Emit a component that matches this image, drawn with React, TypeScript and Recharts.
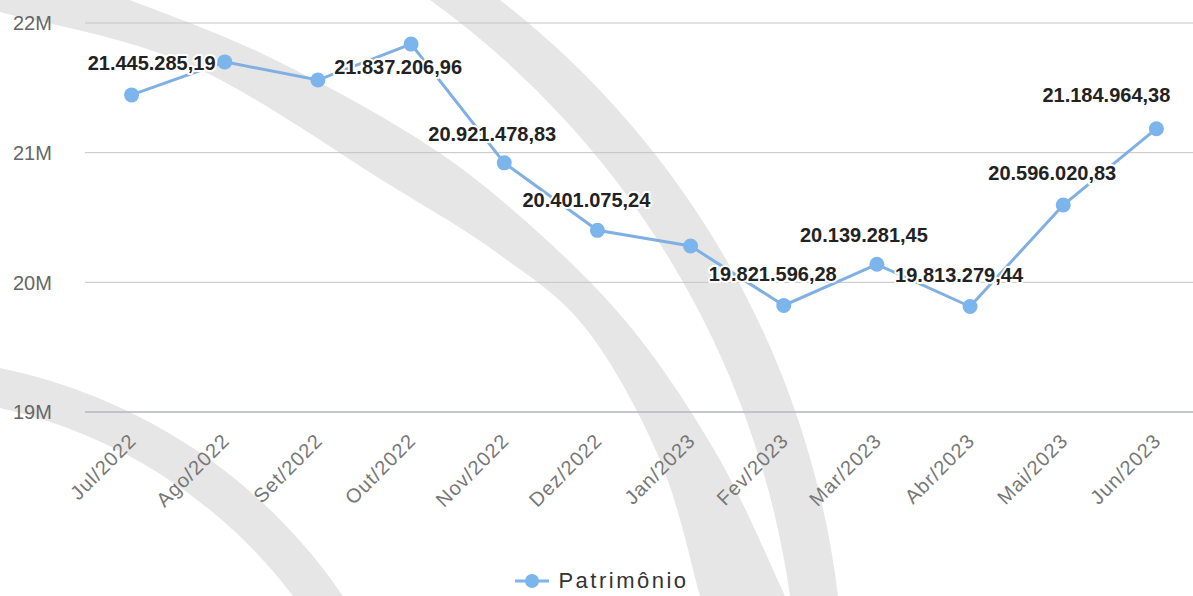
import React from "react";
import { LineChart, Line, XAxis, YAxis, CartesianGrid, Legend } from "recharts";

const months = [
  "Jul/2022", "Ago/2022", "Set/2022", "Out/2022", "Nov/2022", "Dez/2022",
  "Jan/2023", "Fev/2023", "Mar/2023", "Abr/2023", "Mai/2023", "Jun/2023",
];

const patrimonio = [
  21445285.19, 21700000, 21560000, 21837206.96, 20921478.83, 20401075.24,
  20280000, 19821596.28, 20139281.45, 19813279.44, 20596020.83, 21184964.38,
];

const yTicks = [19000000, 20000000, 21000000, 22000000];

// label placement relative to the point (null = label hidden, as in the reference)
const labelOffsets: ([number, number] | null)[] = [
  [20, -32], null, null, [-13, 23], [-12, -29], [-11, -31],
  null, [-11, -32], [-13, -29], [-11, -32], [-11, -32], [-50, -34],
];

const data = months.map((m, i) => ({ month: m, patrimonio: patrimonio[i] }));

const FONT = "'Liberation Sans', Arial, sans-serif";
const BLUE = "#7cb5ec";

function fmtBR(v: number) {
  const [int, dec] = v.toFixed(2).split(".");
  return int.replace(/\B(?=(\d{3})+(?!\d))/g, ".") + "," + dec;
}

// smooth curve through points (catmull-rom -> bezier), for the watermark only
function curve(pts: number[][]) {
  let d = "";
  for (let i = 0; i < pts.length - 1; i++) {
    const p0 = pts[i - 1] || pts[i];
    const p1 = pts[i];
    const p2 = pts[i + 1];
    const p3 = pts[i + 2] || p2;
    const c1 = [p1[0] + (p2[0] - p0[0]) / 6, p1[1] + (p2[1] - p0[1]) / 6];
    const c2 = [p2[0] - (p3[0] - p1[0]) / 6, p2[1] - (p3[1] - p1[1]) / 6];
    d += ` C${c1[0]} ${c1[1]} ${c2[0]} ${c2[1]} ${p2[0]} ${p2[1]}`;
  }
  return d;
}

const band1Upper = [[130, 0], [265, 55], [420, 140], [530, 225], [633, 330], [720, 460], [785, 596]];
const band1Lower = [[700, 596], [660, 460], [587, 330], [500, 255], [390, 185], [190, 65], [0, 12]];
const band1 = `M0 0 L130 0${curve(band1Upper)} L700 596${curve(band1Lower)} Z`;

const YTick = (props: any) => {
  const { y, payload } = props;
  return (
    <text x={13} y={y} dy="0.36em" textAnchor="start" fill="#666" fontSize={20} fontFamily={FONT}>
      {Math.round(payload.value / 1000000)}M
    </text>
  );
};

const XTick = (props: any) => {
  const { x, y, payload } = props;
  const ax = x + 6;
  const ay = y + 22;
  return (
    <text
      x={ax}
      y={ay}
      textAnchor="end"
      transform={`rotate(-45, ${ax}, ${ay})`}
      fill="#777"
      fontSize={20}
      letterSpacing={1}
      fontFamily={FONT}
    >
      {payload.value}
    </text>
  );
};

const PointLabel = (props: any) => {
  const { x, y, index, value } = props;
  const off = labelOffsets[index];
  if (!off) return null;
  return (
    <text
      x={x + off[0]}
      y={y + off[1]}
      dy="0.36em"
      textAnchor="middle"
      fontSize={20}
      fontWeight="bold"
      fontFamily={FONT}
      fill="#222"
      stroke="#fff"
      strokeWidth={4}
      strokeLinejoin="round"
      paintOrder="stroke"
    >
      {fmtBR(Number(value))}
    </text>
  );
};

const LegendContent = () => (
  <div style={{ height: 30, display: "flex", alignItems: "center", justifyContent: "center" }}>
    <svg width={36} height={20} style={{ marginRight: 8 }}>
      <line x1={1} y1={10} x2={35} y2={10} stroke={BLUE} strokeWidth={3} />
      <circle cx={18} cy={10} r={7} fill={BLUE} />
    </svg>
    <span style={{ fontFamily: FONT, fontSize: 22, letterSpacing: 2.5, color: "#333" }}>Patrimônio</span>
  </div>
);

export default function App() {
  return (
    <div
      style={{
        position: "absolute",
        left: 0,
        top: 0,
        width: 1193,
        height: 596,
        overflow: "hidden",
        background: "#fff",
      }}
    >
      {/* watermark arcs behind the chart */}
      <svg width={1193} height={596} style={{ position: "absolute", left: 0, top: 0 }}>
        <path d={band1} fill="#e6e6e6" />
        <path d="M430 0 L500 0 A889 889 0 0 1 838 596 L790 596 A888 888 0 0 0 430 0 Z" fill="#e6e6e6" />
        <path d="M0 368 A548 548 0 0 1 343 596 L293 596 A505 505 0 0 0 0 408 Z" fill="#e6e6e6" />
      </svg>
      <div style={{ position: "absolute", left: 0, top: 0 }}>
        <LineChart width={1210} height={596} data={data} margin={{ top: 23, right: 7, left: 0, bottom: 0 }}>
          <CartesianGrid vertical={false} stroke="#c4c4c4" />
          <XAxis
            dataKey="month"
            interval={0}
            height={154}
            padding={{ left: 46.6, right: 46.6 }}
            tick={<XTick />}
            tickLine={false}
            axisLine={{ stroke: "#b4bccc", strokeWidth: 1.5 }}
          />
          <YAxis
            width={85}
            domain={[19000000, 22000000]}
            ticks={yTicks}
            tick={<YTick />}
            tickLine={false}
            axisLine={false}
          />
          <Legend verticalAlign="bottom" height={30} content={<LegendContent />} />
          <Line
            type="linear"
            dataKey="patrimonio"
            name="Patrimônio"
            stroke="#80b0e2"
            strokeWidth={3}
            dot={{ r: 7.5, fill: BLUE, stroke: BLUE, strokeWidth: 0 }}
            activeDot={false}
            label={<PointLabel />}
            isAnimationActive={false}
          />
        </LineChart>
      </div>
    </div>
  );
}
